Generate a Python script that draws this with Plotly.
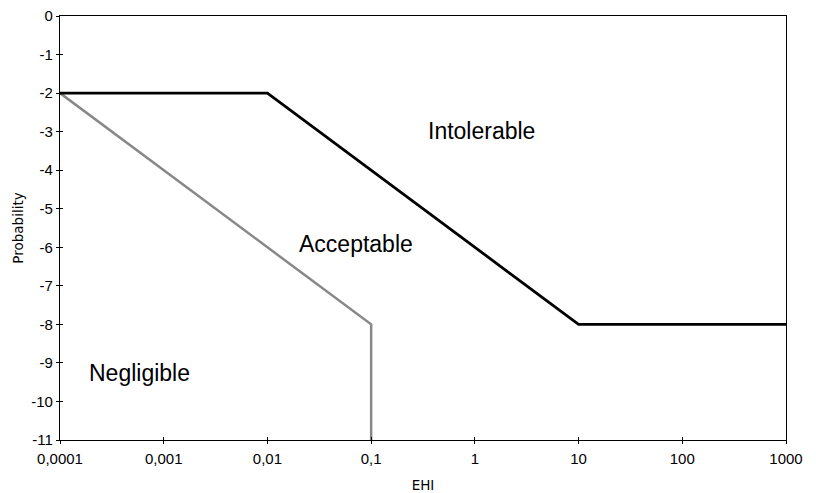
import math
import plotly.graph_objects as go

# Data
intolerable_x = [0.0001, 0.01, 10, 1000]
intolerable_y = [-2, -2, -8, -8]
negligible_x = [0.0001, 0.1, 0.1]
negligible_y = [-2, -8, -11]

x_tickvals = [0.0001, 0.001, 0.01, 0.1, 1, 10, 100, 1000]
x_ticktext = ["0,0001", "0,001", "0,01", "0,1", "1", "10", "100", "1000"]
y_tickvals = [0, -1, -2, -3, -4, -5, -6, -7, -8, -9, -10, -11]
y_ticktext = ["0", "-1", "-2", "-3", "-4", "-5", "-6", "-7", "-8", "-9", "-10", "-11"]

region_labels = ["Intolerable", "Acceptable", "Negligible"]
region_x = [1.16, 0.071, 0.00058]
region_y = [-2.98, -5.91, -9.26]

fig = go.Figure()
fig.add_trace(go.Scatter(x=negligible_x, y=negligible_y, mode="lines",
                         line=dict(color="#888888", width=2.5), showlegend=False, hoverinfo="skip"))
fig.add_trace(go.Scatter(x=intolerable_x, y=intolerable_y, mode="lines",
                         line=dict(color="#000000", width=2.8), showlegend=False, hoverinfo="skip"))
# helper trace for inside tick overlay
fig.add_trace(go.Scatter(x=[None], y=[None], xaxis="x2", yaxis="y2", showlegend=False, hoverinfo="skip"))

for t, xv, yv in zip(region_labels, region_x, region_y):
    fig.add_annotation(x=math.log10(xv), y=yv, text=t, showarrow=False, xref="x", yref="y",
                       xanchor="center", yanchor="middle",
                       font=dict(family="Liberation Sans, Arial", size=23, color="#000000"))

tickfont = dict(family="Liberation Sans, Arial", size=15, color="#000000")
axis_common = dict(showgrid=False, zeroline=False, showline=True, linecolor="#000000", linewidth=1.2,
                   mirror=True, ticks="outside", ticklen=3, tickwidth=1, tickcolor="#000000",
                   automargin=False)

fig.update_layout(
    width=816, height=493,
    margin=dict(l=60, r=30, t=16, b=53, autoexpand=False),
    plot_bgcolor="#ffffff", paper_bgcolor="#ffffff",
    xaxis=dict(type="log", range=[-4, 3], tickvals=x_tickvals, ticktext=x_ticktext,
               tickfont=tickfont, ticklabelstandoff=2,
               title=dict(text="EHI", font=dict(family="DejaVu Sans", size=13.5, color="#000000"), standoff=14),
               **axis_common),
    yaxis=dict(range=[-11, 0], tickvals=y_tickvals, ticktext=y_ticktext, tickfont=tickfont,
               title=dict(text="Probability", font=dict(family="DejaVu Sans", size=13.5, color="#000000"), standoff=4),
               **axis_common),
    xaxis2=dict(type="log", range=[-4, 3], overlaying="x", anchor="y2", tickvals=x_tickvals,
                showticklabels=False, showgrid=False, zeroline=False, showline=False,
                ticks="inside", ticklen=3, tickwidth=1, tickcolor="#000000", automargin=False),
    yaxis2=dict(range=[-11, 0], overlaying="y", anchor="x2", tickvals=y_tickvals,
                showticklabels=False, showgrid=False, zeroline=False, showline=False,
                ticks="inside", ticklen=3, tickwidth=1, tickcolor="#000000", automargin=False),
)

fig.write_html("out.html", config={"displayModeBar": False},
               post_script="document.body.style.margin='0';")
